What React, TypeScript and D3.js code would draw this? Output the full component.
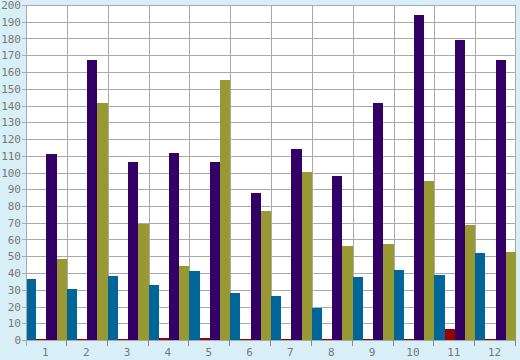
import React from "react";
import * as d3 from "d3";

const categories = ["1", "2", "3", "4", "5", "6", "7", "8", "9", "10", "11", "12"];
const seriesNames = ["A", "B", "C", "D"];
const seriesColors = ["#006699", "#990000", "#330066", "#999933"];
const blueValues = [36.4, 30.4, 38.2, 32.8, 41.2, 28, 26.3, 19.1, 37.6, 41.8, 38.8, 51.9];
const redValues = [0.6, 0.6, 0.6, 0.9, 1.4, 0.6, 0.6, 0.6, 0.6, 0.6, 6.6, 0.6];
const purpleValues = [111, 167.2, 106.3, 111.6, 106.3, 87.8, 114, 97.9, 141.5, 194, 179, 167];
const oliveValues = [48.4, 141.5, 69, 44.2, 155.2, 77.1, 100.3, 56, 57.6, 95, 68.7, 52.6];
const yTicks = d3.range(0, 201, 10);

const W = 520, H = 360;
const margin = { left: 26, right: 4, top: 5, bottom: 20 };

export default function App() {
  const series = [blueValues, redValues, purpleValues, oliveValues];
  const x0 = d3.scaleBand().domain(categories).range([margin.left, W - margin.right]).padding(0);
  const x1 = d3.scaleBand().domain(seriesNames).range([0, x0.bandwidth()]).padding(0);
  const y = d3.scaleLinear().domain([0, 200]).range([H - margin.bottom, margin.top]);
  const font = "'DejaVu Sans Mono', monospace";
  const grid = "#aaaaaa";
  const x0L = margin.left, x1R = W - margin.right;
  return (
    <svg width={W} height={H} style={{ position: "absolute", left: 0, top: 0, display: "block" }}>
      <rect x={0} y={0} width={W} height={H} fill="#d9eff7" />
      <rect x={x0L} y={y(200)} width={x1R - x0L} height={y(0) - y(200)} fill="#ffffff" />
      {yTicks.map((t) => (
        <line key={"gy" + t} x1={x0L} x2={x1R} y1={Math.round(y(t)) + 0.5} y2={Math.round(y(t)) + 0.5} stroke={grid} strokeWidth={1} />
      ))}
      {categories.map((c, i) => (
        <line key={"gx" + c} x1={Math.round(x0(c)!) + 0.5} x2={Math.round(x0(c)!) + 0.5} y1={y(200)} y2={y(0)} stroke={grid} strokeWidth={1} />
      ))}
      <line x1={x1R - 0.5} x2={x1R - 0.5} y1={y(200)} y2={y(0)} stroke={grid} />
      {categories.map((c, i) =>
        series.map((vals, s) => (
          <rect
            key={c + "-" + s}
            x={x0(c)! + x1(seriesNames[s])!}
            y={y(vals[i])}
            width={x1.bandwidth()}
            height={y(0) - y(vals[i])}
            fill={seriesColors[s]}
            shapeRendering="crispEdges"
          />
        ))
      )}
      {/* y axis */}
      <line x1={x0L + 0.5} x2={x0L + 0.5} y1={y(200)} y2={y(0) + 6} stroke={grid} />
      {yTicks.map((t) => (
        <g key={"yt" + t}>
          <line x1={x0L - 4} x2={x0L} y1={Math.round(y(t)) + 0.5} y2={Math.round(y(t)) + 0.5} stroke={grid} />
          <text x={x0L - 5} y={y(t) + 4} textAnchor="end" fontFamily={font} fontSize={11} fill="#777777">
            {t}
          </text>
        </g>
      ))}
      {/* x axis */}
      <line x1={x0L} x2={x1R} y1={Math.round(y(0)) + 0.5} y2={Math.round(y(0)) + 0.5} stroke={grid} />
      {categories.map((c) => (
        <g key={"xt" + c}>
          <line x1={Math.round(x0(c)! + x0.bandwidth()) - 0.5} x2={Math.round(x0(c)! + x0.bandwidth()) - 0.5} y1={y(0)} y2={y(0) + 6} stroke="#888888" />
          <text x={x0(c)! + x0.bandwidth() / 2 - 1} y={y(0) + 16} textAnchor="middle" fontFamily={font} fontSize={11} fill="#777777">
            {c}
          </text>
        </g>
      ))}
    </svg>
  );
}
